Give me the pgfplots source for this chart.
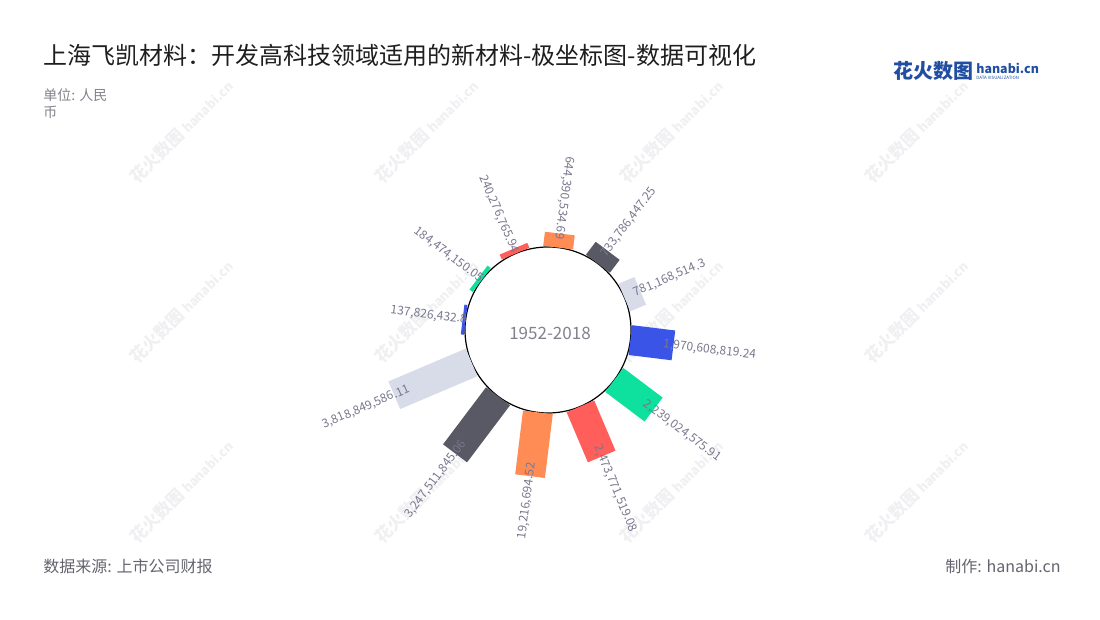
\documentclass[border=0pt]{standalone}
\usepackage{fontspec}
\setmainfont{Noto Sans CJK SC}
\usepackage{pgfplots}
\usepackage{pgfplotstable}
\pgfplotsset{compat=1.18}

\definecolor{bar0}{RGB}{58,84,232}
\definecolor{bar1}{RGB}{14,224,158}
\definecolor{bar2}{RGB}{255,94,90}
\definecolor{bar3}{RGB}{255,140,85}
\definecolor{bar4}{RGB}{88,89,100}
\definecolor{bar5}{RGB}{216,220,232}
\definecolor{labcol}{RGB}{120,120,142}
\definecolor{titlecol}{RGB}{30,30,30}
\definecolor{subcol}{RGB}{130,130,140}
\definecolor{footcol}{RGB}{100,100,110}
\definecolor{logoblue}{RGB}{32,78,160}
\definecolor{wmcol}{RGB}{240,240,243}

% angle (deg), value (RMB), colour index, label text, label anchor, label rotation
\pgfplotstableread{
ang val c lab anc rot
173 137826432.8 0 137,826,432.8 east -7
143 184474150.05 1 184,474,150.05 east -37
113 240276765.94 2 240,276,765.94 east -67
83 644390534.69 3 644,390,534.69 east -97
53 733786447.25 4 733,786,447.25 west 53
23 781168514.3 5 781,168,514.3 west 23
-7 1970608819.24 0 1,970,608,819.24 west -7
-37 2239024575.91 1 2,239,024,575.91 west -37
-67 2473771519.08 2 2,473,771,519.08 west -67
-97 2919216694.52 3 19,216,694.52 east 83
-127 3247511845.06 4 3,247,511,845.06 east 53
-157 3818849586.11 5 3,818,849,586.11 east 23
}\bars

% read row #1 of the table and compute inner / outer points (axis units = px)
\newcommand\getbar[1]{%
  \pgfplotstablegetelem{#1}{ang}\of\bars \edef\bA{\pgfplotsretval}%
  \pgfplotstablegetelem{#1}{val}\of\bars \edef\bV{\pgfplotsretval}%
  \pgfplotstablegetelem{#1}{c}\of\bars \edef\bC{\pgfplotsretval}%
  \pgfplotstablegetelem{#1}{lab}\of\bars \edef\bL{\pgfplotsretval}%
  \pgfplotstablegetelem{#1}{anc}\of\bars \edef\bN{\pgfplotsretval}%
  \pgfplotstablegetelem{#1}{rot}\of\bars \edef\bR{\pgfplotsretval}%
  \begingroup
  \pgfkeys{/pgf/fpu=true,/pgf/fpu/output format=fixed}%
  \pgfmathparse{83+\bV*2.2e-8}\xdef\bOut{\pgfmathresult}%
  \pgfmathparse{79+\bV*1.87e-8}\xdef\bLab{\pgfmathresult}%
  \endgroup
  \pgfmathsetmacro\xa{83*cos(\bA)}\pgfmathsetmacro\ya{83*sin(\bA)}%
  \pgfmathsetmacro\xb{\bOut*cos(\bA)}\pgfmathsetmacro\yb{\bOut*sin(\bA)}%
  \pgfmathsetmacro\xl{\bLab*cos(\bA)}\pgfmathsetmacro\yl{\bLab*sin(\bA)}%
}

\begin{document}
\begin{tikzpicture}
\useasboundingbox (0,0) rectangle (550pt,310pt);
% watermarks
\foreach \wx in {66.5,189,311.5,434}{
  \foreach \wy in {220,130,40}{
    \node[anchor=west, rotate=45, text=wmcol, inner sep=0pt]
      at (\wx pt,\wy pt) {{\bfseries\fontsize{8.5}{9}\selectfont 花火数图}\,{\bfseries\fontsize{6.5}{7}\selectfont hanabi.cn}};
  }
}
\begin{axis}[
  at={(0,0)}, anchor=south west,
  scale only axis, width=550pt, height=310pt,
  xmin=-548, xmax=552, ymin=-290, ymax=330,
  hide axis, clip=false,
]
% inner circle
\draw[black, line width=0.6pt, fill=white] (axis cs:0,0) circle[radius=41.5pt];
% bars
\pgfplotsinvokeforeach{0,1,2,3,4,5,6,7,8,9,10,11}{%
  \getbar{#1}%
  \edef\doit{\noexpand\addplot[draw=bar\bC, line width=15pt, line cap=butt, forget plot] coordinates {(\xa,\ya) (\xb,\yb)};}\doit
}
% labels
\pgfplotsinvokeforeach{0,1,2,3,4,5,6,7,8,9,10,11}{%
  \getbar{#1}%
  \edef\doit{\noexpand\node[anchor=\bN, rotate=\bR, inner sep=0pt, text=labcol, font=\noexpand\fontsize{6}{7}\noexpand\selectfont] at (axis cs:\xl,\yl) {\bL};}\doit
}
% centre text
\node[text=subcol, font=\fontsize{8.5}{10}\selectfont] at (axis cs:2,-3) {1952-2018};
% title and notes
\node[anchor=base west, text=titlecol, font=\fontsize{12}{14}\selectfont, inner sep=0pt] at (axis cs:-505,265) {上海飞凯材料：开发高科技领域适用的新材料-极坐标图-数据可视化};
\node[anchor=base west, text=subcol, font=\fontsize{7}{8}\selectfont, inner sep=0pt] at (axis cs:-505,229) {单位: 人民};
\node[anchor=base west, text=subcol, font=\fontsize{7}{8}\selectfont, inner sep=0pt] at (axis cs:-505,212) {币};
\node[anchor=base west, text=footcol, font=\fontsize{8}{9}\selectfont, inner sep=0pt] at (axis cs:-505,-243) {数据来源: 上市公司财报};
\node[anchor=base east, text=footcol, font=\fontsize{8}{9}\selectfont, inner sep=0pt] at (axis cs:513,-243) {制作: hanabi.cn};
% logo
\node[anchor=base west, text=logoblue, font=\bfseries\fontsize{10}{11}\selectfont, inner sep=0pt] at (axis cs:345,251) {花火数图};
\node[anchor=base west, text=logoblue, font=\bfseries\fontsize{6.2}{7}\selectfont, inner sep=0pt] at (axis cs:428,256) {hanabi.cn};
\node[anchor=base west, text=logoblue, font=\fontsize{2.2}{3}\selectfont, inner sep=0pt] at (axis cs:428,250) {DATA VISUALIZATION};
\end{axis}
\end{tikzpicture}
\end{document}
